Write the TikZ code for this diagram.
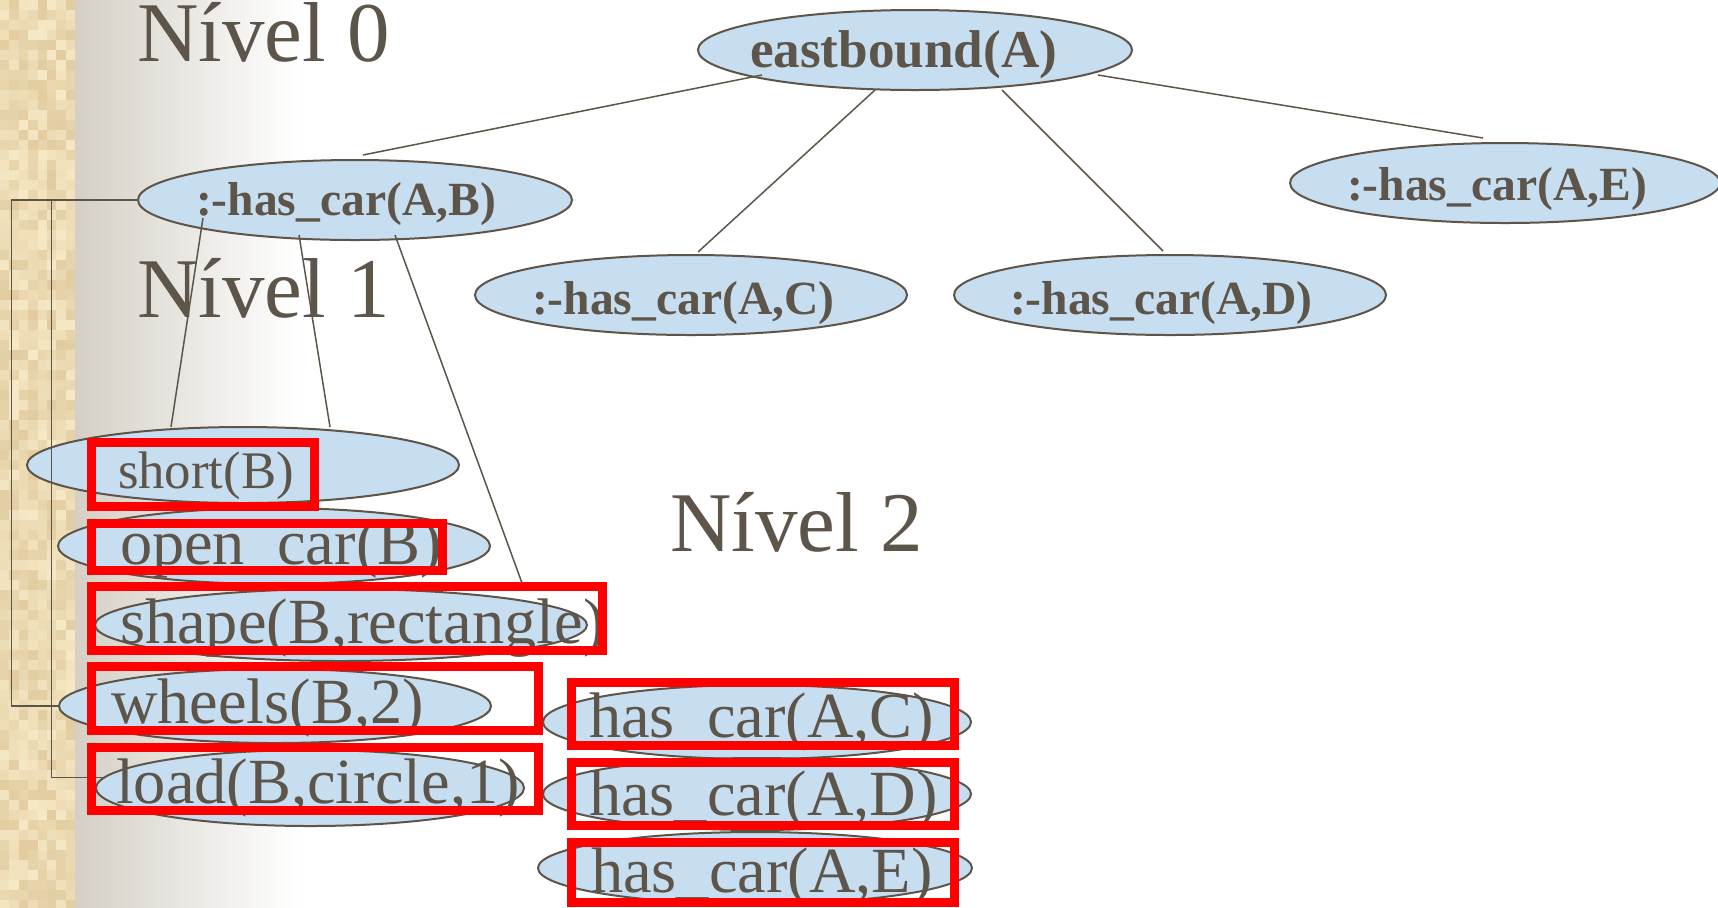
\documentclass[tikz,border=0pt]{standalone}
\usepackage{fontspec}
\setmainfont{Liberation Serif}
\usetikzlibrary{shapes.geometric,calc}
\definecolor{txtc}{RGB}{94,85,74}
\definecolor{ellc}{RGB}{199,221,240}
\definecolor{beigeA}{RGB}{246,233,198}
\definecolor{beigeB}{RGB}{226,204,160}
\definecolor{grayS}{RGB}{212,208,198}
\definecolor{boxred}{RGB}{255,0,0}
\tikzset{
  ell/.style={ellipse, draw=txtc, fill=ellc, line width=1pt, inner sep=0pt, outer sep=0pt},
  lbl/.style={anchor=base west, inner sep=0pt, outer sep=0pt, text=txtc},
  nivel/.style={lbl, font=\fontsize{42.5pt}{48pt}\selectfont},
  rootlbl/.style={lbl, font=\bfseries\fontsize{26.6pt}{30pt}\selectfont},
  boldlbl/.style={lbl, font=\bfseries\fontsize{23.8pt}{28pt}\selectfont},
  smalllbl/.style={lbl, font=\fontsize{26.4pt}{30pt}\selectfont},
  biglbl/.style={lbl, font=\fontsize{32.2pt}{36pt}\selectfont},
  conn/.style={draw=txtc, line width=0.75pt},
  redbox/.style={draw=boxred, line width=4.5pt}
}
\begin{document}
\begin{tikzpicture}[x=0.5pt,y=-0.5pt]
\useasboundingbox (0,0) rectangle (1718,907);
% background
\fill[white] (0,0) rectangle (1718,907);
\shade[left color=grayS, right color=white] (75,0) rectangle (300,907);
\pgfmathsetseed{11}
\foreach \i in {0,...,7}{
  \foreach \j in {0,...,90}{
    \pgfmathtruncatemacro{\r}{rnd*100}
    \fill[beigeA!\r!beigeB] (\i*9.375,\j*10) rectangle ++(9.5,10.1);
  }
}
% level captions
\node[nivel] (n0) at (137,61) {Nível 0};
\node[nivel] (n1) at (137,317) {Nível 1};
\node[nivel] (n2) at (670,551) {Nível 2};
% ellipses
\node[ell, minimum width=217pt, minimum height=40pt] (root) at (915,50) {};
\node[ell, minimum width=217pt, minimum height=40pt] (ab) at (355,200) {};
\node[ell, minimum width=216pt, minimum height=40pt] (ac) at (691,295) {};
\node[ell, minimum width=216pt, minimum height=40pt] (ad) at (1170,295) {};
\node[ell, minimum width=215pt, minimum height=40pt] (ae) at (1505,183) {};
\node[ell, minimum width=216pt, minimum height=38pt] (short) at (243,465) {};
\node[ell, minimum width=216pt, minimum height=38pt] (open) at (274,546) {};
\node[ell, minimum width=246pt, minimum height=36pt] (shape) at (341,625) {};
\node[ell, minimum width=216pt, minimum height=37pt] (wheels) at (275,706) {};
\node[ell, minimum width=214pt, minimum height=38pt] (load) at (310,788) {};
\node[ell, minimum width=214pt, minimum height=37pt] (hc) at (757,722) {};
\node[ell, minimum width=214pt, minimum height=36pt] (hd) at (757,794) {};
\node[ell, minimum width=217pt, minimum height=36pt] (he) at (755,868) {};
% connectors
\draw[conn] ($(root.center)+(-153,25)$) -- ($(ab.center)+(8,-45)$);
\draw[conn] ($(root.center)+(-40,40)$) -- ($(ac.center)+(7,-43)$);
\draw[conn] ($(root.center)+(87,40)$) -- ($(ad.center)+(-7,-44)$);
\draw[conn] ($(root.center)+(183,25)$) -- ($(ae.center)+(-22,-45)$);
\draw[conn] ($(ab.center)+(-152,18)$) -- ($(short.center)+(-72,-38)$);
\draw[conn] ($(ab.center)+(-56,35)$) -- ($(short.center)+(87,-38)$);
\draw[conn] ($(ab.center)+(40,35)$) -- ($(shape.center)+(181,-42)$);
\coordinate (bx1) at (11.5,200);
\coordinate (bx2) at (51.5,200);
\draw[conn] (ab.west) -- (bx1) |- (wheels.west);
\draw[conn] (bx2) |- (load.177);
% labels
\node[rootlbl] (troot) at (750,67) {eastbound(A)};
\node[boldlbl] (tab) at (196,215) {:-has\_car(A,B)};
\node[boldlbl] (tac) at (532,314) {:-has\_car(A,C)};
\node[boldlbl] (tad) at (1010,314) {:-has\_car(A,D)};
\node[boldlbl] (tae) at (1347,200) {:-has\_car(A,E)};
\node[smalllbl] (tshort) at (118,488) {short(B)};
\node[biglbl] (topen) at (120,564) {open\_car(B)};
\node[biglbl] (tshape) at (120,643) {shape(B,rectangle)};
\node[biglbl] (twheels) at (111,723) {wheels(B,2)};
\node[biglbl] (tload) at (116,803) {load(B,circle,1)};
\node[biglbl] (thc) at (589,737) {has\_car(A,C)};
\node[biglbl] (thd) at (589,815) {has\_car(A,D)};
\node[biglbl] (the) at (591,892) {has\_car(A,E)};
% red boxes
\draw[redbox] (91.5,442.5) rectangle (314.5,506.5);
\draw[redbox] (91.5,523.5) rectangle (442.5,570.5);
\draw[redbox] (91.5,586.5) rectangle (602.5,650.5);
\draw[redbox] (91.5,666.5) rectangle (538.5,730.5);
\draw[redbox] (91.5,747.5) rectangle (538.5,810.5);
\draw[redbox] (571.5,682.5) rectangle (954.5,745.5);
\draw[redbox] (571.5,762.5) rectangle (954.5,825.5);
\draw[redbox] (571.5,842.5) rectangle (954.5,902.5);
\end{tikzpicture}
\end{document}
